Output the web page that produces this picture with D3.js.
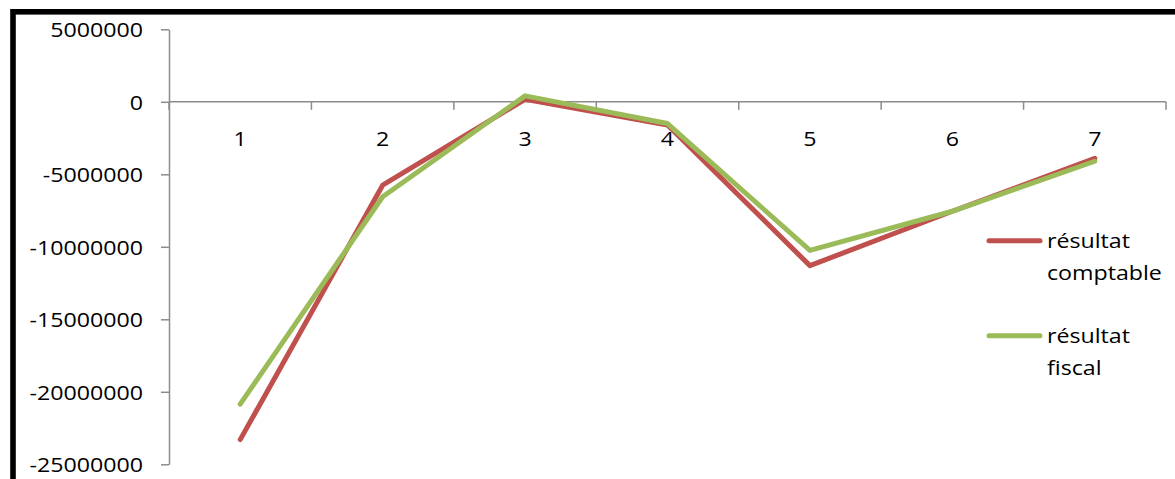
<!DOCTYPE html>
<html>
<head>
<meta charset="utf-8">
<script src="https://cdn.jsdelivr.net/npm/d3@7"></script>
<style>
  html, body { margin: 0; padding: 0; background: #fff; }
  svg { display: block; }
  text { font-family: "Open Sans", "Noto Sans", sans-serif; font-size: 20px; fill: #000; }
</style>
</head>
<body>
<svg id="chart" width="1175" height="479"></svg>
<script>
// Years 1..7 and the two results (accounting vs. tax)
const categories = ["1", "2", "3", "4", "5", "6", "7"];
const comptable = [-23300000, -5750000, 170000, -1600000, -11300000, -7550000, -3900000];
const fiscal    = [-20850000, -6550000, 410000, -1500000, -10250000, -7550000, -4100000];
const yTicks = [5000000, 0, -5000000, -10000000, -15000000, -20000000, -25000000];
const seriesNames = ["résultat comptable", "résultat fiscal"];
const seriesColors = ["#C0504D", "#9BBB59"];

const svg = d3.select("#chart");
const textScaleX = 1.16;

// outer frame
svg.append("rect")
  .attr("x", 13).attr("y", 11.8)
  .attr("width", 1300).attr("height", 600)
  .attr("fill", "none").attr("stroke", "#000").attr("stroke-width", 5.6);

const x = d3.scaleBand().domain(categories).range([169, 1166]).paddingInner(0).paddingOuter(0);
const y = d3.scaleLinear().domain([-25000000, 5000000]).range([464.3, 29.3]);

const axisColor = "#8c8c8c";
// plain integers with an ASCII hyphen for negatives
const fmt = d => String(d);

// y axis
const yAxis = svg.append("g")
  .attr("transform", "translate(169,0)")
  .call(d3.axisLeft(y).tickValues(yTicks).tickSize(8).tickPadding(0).tickSizeOuter(0).tickFormat(fmt));
yAxis.select(".domain").attr("stroke", axisColor).attr("stroke-width", 1.5);
yAxis.selectAll(".tick line").attr("stroke", axisColor).attr("stroke-width", 1.5);
yAxis.selectAll(".tick text").remove();
yAxis.selectAll(".tick").append("text")
  .attr("text-anchor", "end")
  .attr("fill", "#000")
  .attr("transform", `translate(-26,7.3) scale(${textScaleX},1)`)
  .style("font-size", "20px")
  .style("font-family", "'Open Sans', 'Noto Sans', sans-serif")
  .text(fmt);

// x axis along zero
const y0 = y(0);
const xAxis = svg.append("g");
xAxis.append("line")
  .attr("x1", x.range()[0]).attr("x2", x.range()[1])
  .attr("y1", y0).attr("y2", y0)
  .attr("stroke", axisColor).attr("stroke-width", 1.5);
const boundaries = categories.map(c => x(c)).concat([x(categories[categories.length - 1]) + x.step()]);
xAxis.selectAll("line.tk").data(boundaries).enter().append("line")
  .attr("class", "tk")
  .attr("x1", d => d).attr("x2", d => d)
  .attr("y1", y0).attr("y2", y0 + 8)
  .attr("stroke", axisColor).attr("stroke-width", 1.5);
xAxis.selectAll("text").data(categories).enter().append("text")
  .attr("text-anchor", "middle")
  .attr("transform", d => `translate(${x(d) + x.bandwidth() / 2},${y0 + 44}) scale(${textScaleX},1)`)
  .text(d => d);

// series lines
const line = d3.line()
  .x((d, i) => x(categories[i]) + x.bandwidth() / 2)
  .y(d => y(d));

[comptable, fiscal].forEach((vals, i) => {
  svg.append("path")
    .datum(vals)
    .attr("d", line)
    .attr("fill", "none")
    .attr("stroke", seriesColors[i])
    .attr("stroke-width", 5)
    .attr("stroke-linejoin", "round")
    .attr("stroke-linecap", "round");
});

// legend
const legendY = [240.7, 335.7];
seriesNames.forEach((name, i) => {
  const g = svg.append("g").attr("transform", `translate(0,${legendY[i]})`);
  g.append("line")
    .attr("x1", 989).attr("x2", 1040)
    .attr("y1", 0).attr("y2", 0)
    .attr("stroke", seriesColors[i]).attr("stroke-width", 5)
    .attr("stroke-linecap", "round");
  const words = name.split(" ");
  words.forEach((w, j) => {
    g.append("text")
      .attr("transform", `translate(1047,${7.6 + j * 32}) scale(${textScaleX},1)`)
      .text(w);
  });
});
</script>
</body>
</html>
